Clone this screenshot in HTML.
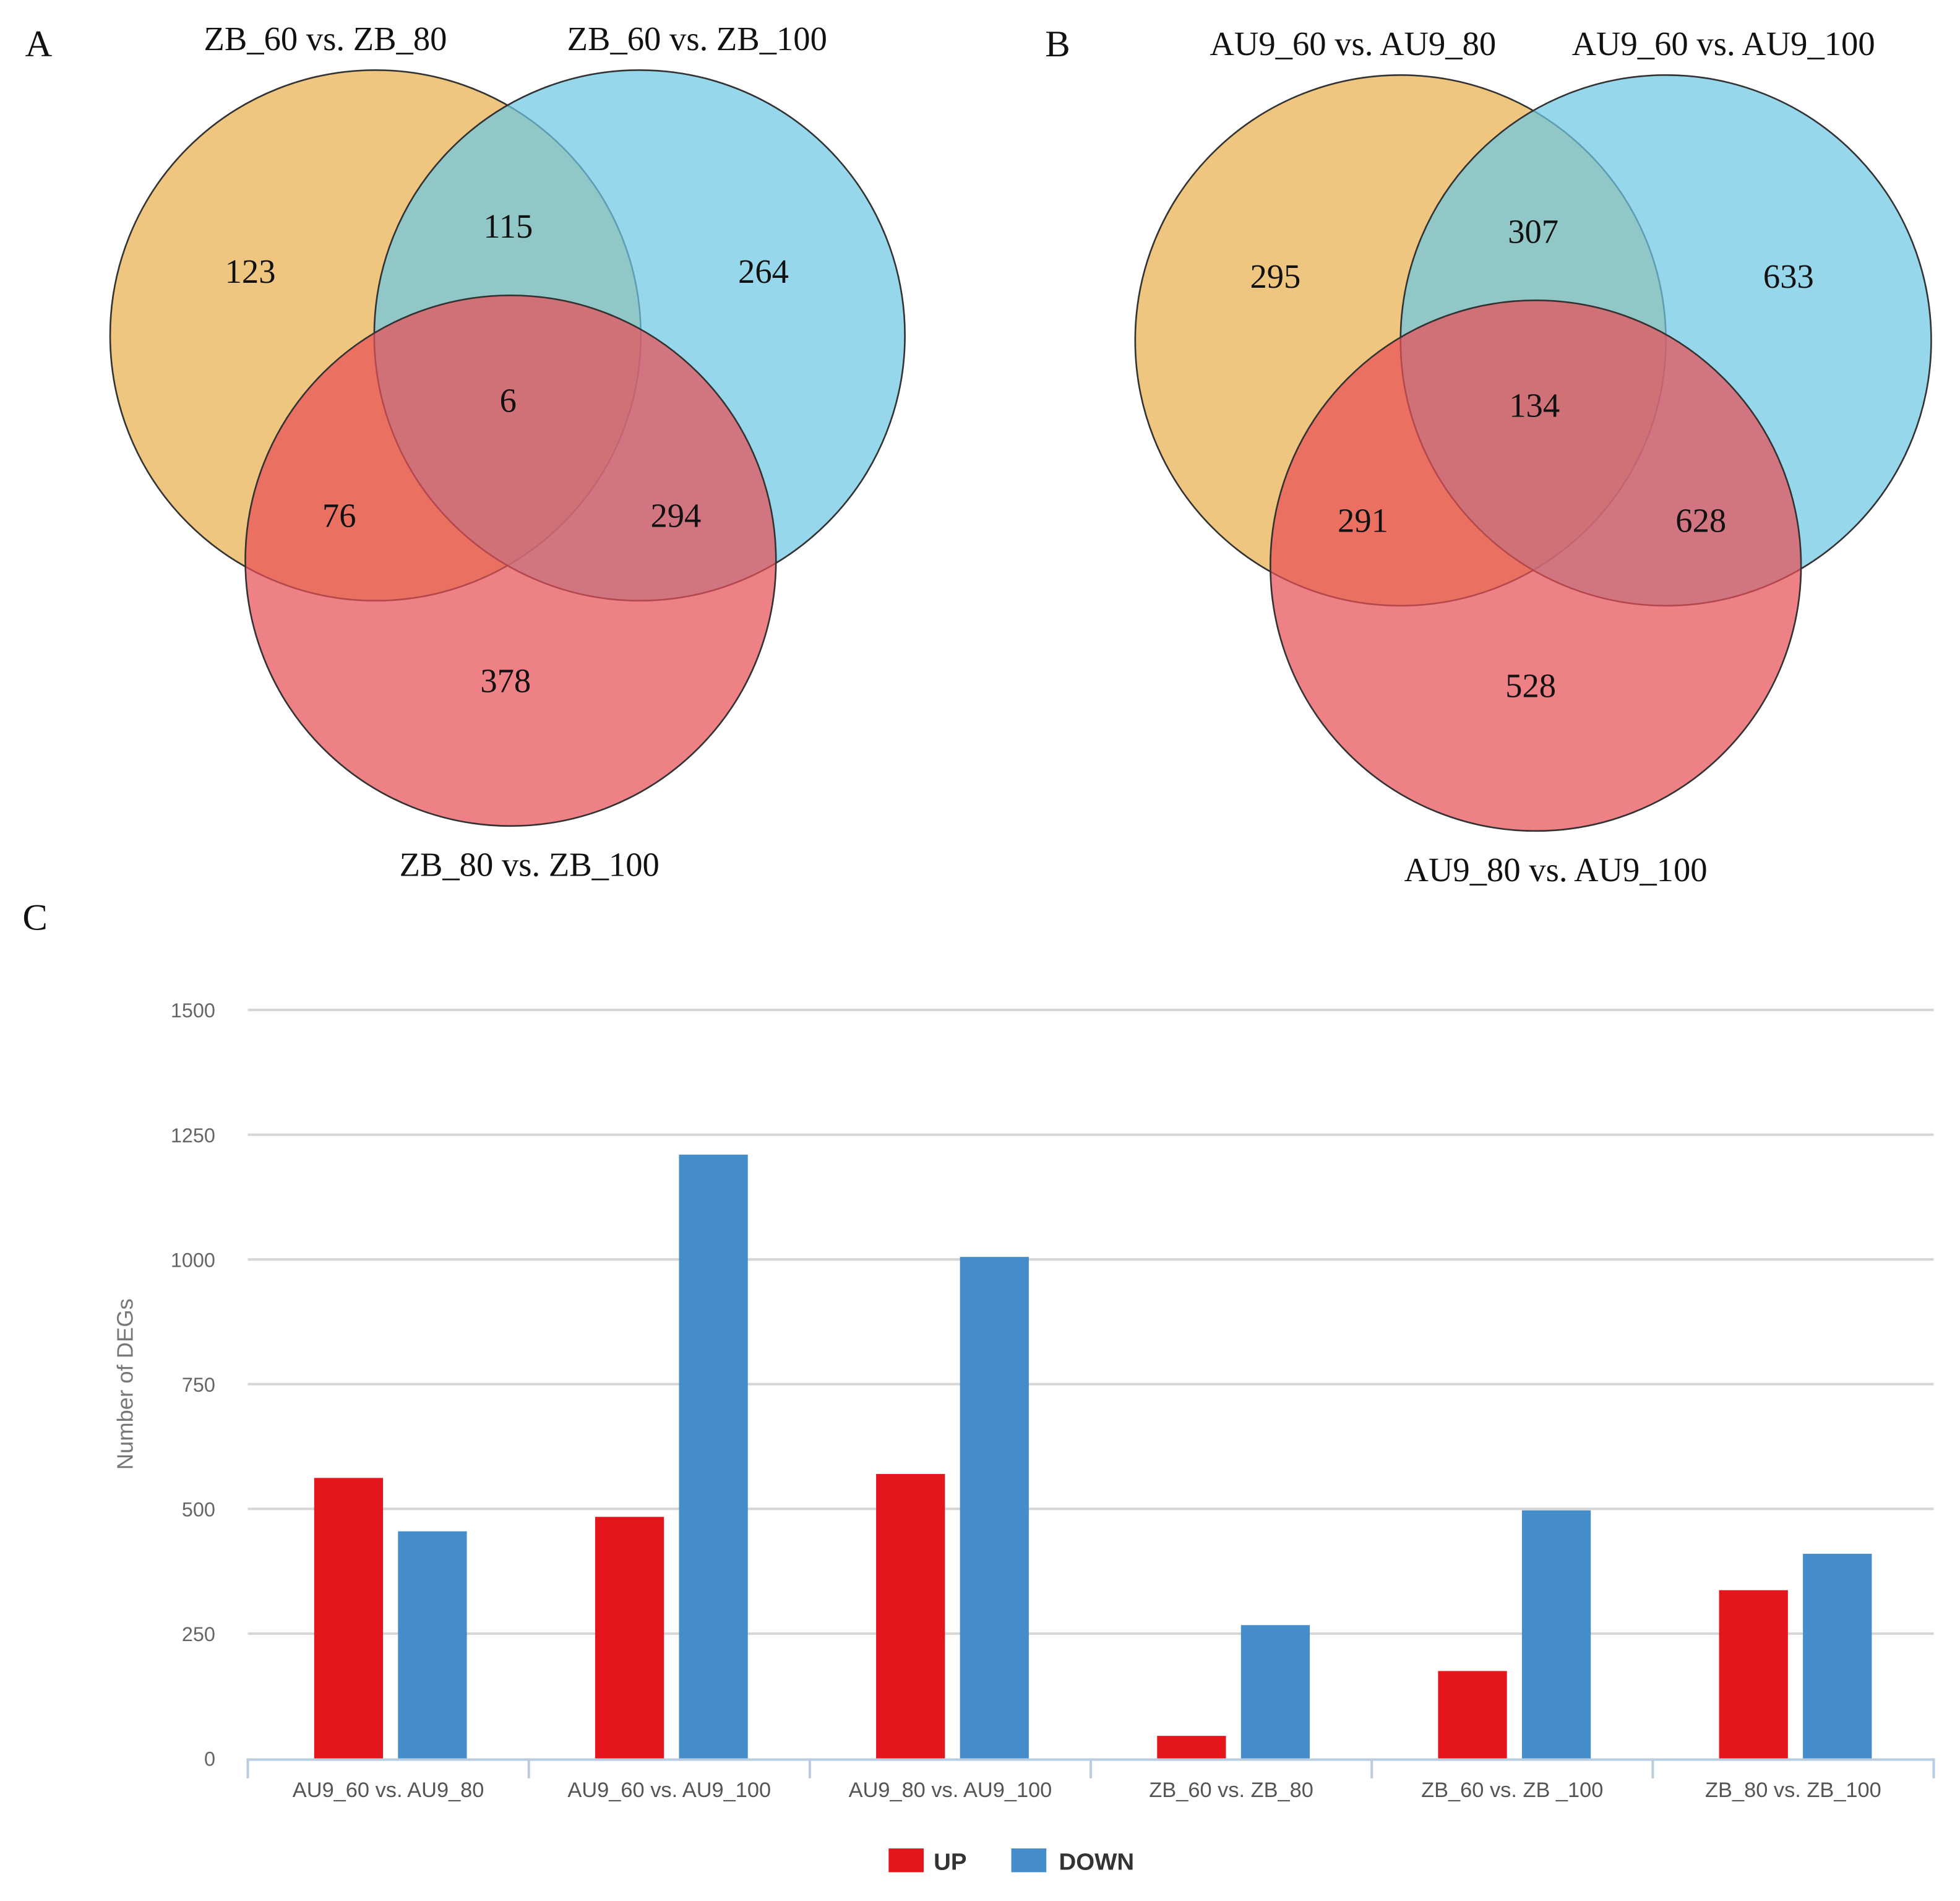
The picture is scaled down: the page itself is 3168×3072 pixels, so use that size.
<!DOCTYPE html>
<html><head><meta charset="utf-8"><style>html,body{margin:0;padding:0;background:#fff}svg{display:block}</style></head>
<body>
<svg id="fig" width="3168" height="3072" viewBox="0 0 1566 1519" preserveAspectRatio="none" xmlns="http://www.w3.org/2000/svg">
<g font-family="Liberation Serif, serif" fill="#111">
<g>
<text x="20" y="45" font-size="30">A</text>
<circle cx="300" cy="268" r="212" fill="#e9b04e" fill-opacity="0.72" stroke="#333" stroke-width="1.3"/>
<circle cx="511" cy="268" r="212" fill="#6ec8e4" fill-opacity="0.72" stroke="#333" stroke-width="1.3"/>
<circle cx="408" cy="448" r="212" fill="#e85058" fill-opacity="0.72" stroke="#333" stroke-width="1.3"/>
<g font-size="27" text-anchor="middle">
<text x="260" y="40">ZB_60 vs. ZB_80</text><text x="557" y="40">ZB_60 vs. ZB_100</text><text x="423" y="700">ZB_80 vs. ZB_100</text>
<text x="200" y="226">123</text><text x="406" y="190">115</text><text x="610" y="226">264</text><text x="406" y="329">6</text>
<text x="271" y="421">76</text><text x="540" y="421">294</text><text x="404" y="553">378</text></g>
</g>
<g>
<text x="835" y="45" font-size="30">B</text>
<circle cx="1119" cy="272" r="212" fill="#e9b04e" fill-opacity="0.72" stroke="#333" stroke-width="1.3"/>
<circle cx="1331" cy="272" r="212" fill="#6ec8e4" fill-opacity="0.72" stroke="#333" stroke-width="1.3"/>
<circle cx="1227" cy="452" r="212" fill="#e85058" fill-opacity="0.72" stroke="#333" stroke-width="1.3"/>
<g font-size="27" text-anchor="middle">
<text x="1081" y="44">AU9_60 vs. AU9_80</text><text x="1377" y="44">AU9_60 vs. AU9_100</text><text x="1243" y="704">AU9_80 vs. AU9_100</text>
<text x="1019" y="230">295</text><text x="1225" y="194">307</text><text x="1429" y="230">633</text><text x="1226" y="333">134</text>
<text x="1089" y="425">291</text><text x="1359" y="425">628</text><text x="1223" y="557">528</text></g>
</g>
<text x="18" y="743" font-size="30">C</text>
</g>
<g id="chart" font-family="Liberation Sans, sans-serif"></g>
</svg>
<script>
const categories=["AU9_60 vs. AU9_80","AU9_60 vs. AU9_100","AU9_80 vs. AU9_100","ZB_60 vs. ZB_80","ZB_60 vs. ZB _100","ZB_80 vs. ZB_100"];
const upValues=[562,484,570,45,175,337];
const downValues=[455,1210,1005,267,497,410];
const yTicks=[0,250,500,750,1000,1250,1500];
const NS="http://www.w3.org/2000/svg";
const g=document.getElementById('chart');
const x0=198,x1=1545,y0=1405,yTop=807,yMax=1500;
const y=v=>y0-(v/yMax)*(y0-yTop);
const gw=(x1-x0)/categories.length;
function mk(t,a,txt){const e=document.createElementNS(NS,t);for(const k in a)e.setAttribute(k,a[k]);if(txt!=null)e.textContent=txt;g.appendChild(e);return e;}
yTicks.forEach(t=>{
 if(t>0){const l=mk('line',{x1:x0,x2:x1,y1:y(t),y2:y(t),stroke:'#d6d6d6','stroke-width':2});
 
 }
 const tx=mk('text',{x:172,y:y(t)+6,'text-anchor':'end','font-size':16,fill:'#666'},String(t));
 
 
});
const ax=mk('line',{x1:x0,x2:x1,y1:y0+1,y2:y0+1,stroke:'#b8cde0','stroke-width':2});


categories.forEach((c,i)=>{
 const gx=x0+i*gw;
 const tk=mk('line',{x1:gx,x2:gx,y1:y0,y2:y0+16,stroke:'#b8cde0','stroke-width':2});
 
 
 const r=mk('rect',{x:gx+53,y:y(upValues[i]),width:55,height:y0-y(upValues[i]),fill:'#e4161c'});
 
 
 const b=mk('rect',{x:gx+120,y:y(downValues[i]),width:55,height:y0-y(downValues[i]),fill:'#458ccb'});
 
 
 const lb=mk('text',{x:gx+gw/2,y:1436,'text-anchor':'middle','font-size':17,fill:'#555'},c);
 
 
});
const t2=mk('line',{x1:x1,x2:x1,y1:y0,y2:y0+16,stroke:'#b8cde0','stroke-width':2});


const yt=mk('text',{x:0,y:0,transform:'translate(106,1106) rotate(-90)','text-anchor':'middle','font-size':18,fill:'#777'},'Number of DEGs');


const l1=mk('rect',{x:710,y:1477,width:28,height:19,fill:'#e4161c'});


const l1t=mk('text',{x:746,y:1494,'font-size':19,'font-weight':'bold',fill:'#333'},'UP');


const l2=mk('rect',{x:808,y:1477,width:28,height:19,fill:'#458ccb'});


const l2t=mk('text',{x:846,y:1494,'font-size':19,'font-weight':'bold',fill:'#333'},'DOWN');


</script>
</body></html>
